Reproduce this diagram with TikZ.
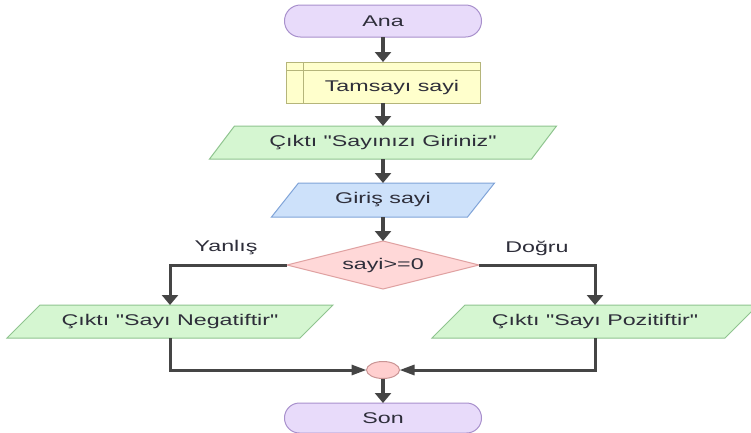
\documentclass[tikz,border=0pt]{standalone}
\usepackage{fontspec}
\newfontfamily\chartfont{Liberation Sans}
\usepackage{graphicx}
\usetikzlibrary{arrows.meta}

\definecolor{linecol}{HTML}{454545}
\definecolor{txtcol}{HTML}{2E2E3A}
\definecolor{termfill}{HTML}{E8DBFA}
\definecolor{termdraw}{HTML}{A890CC}
\definecolor{declfill}{HTML}{FFFFCC}
\definecolor{decldraw}{HTML}{B5B57A}
\definecolor{outfill}{HTML}{D5F6D1}
\definecolor{outdraw}{HTML}{8FC48F}
\definecolor{infill}{HTML}{CDE1FA}
\definecolor{indraw}{HTML}{80A4D8}
\definecolor{decfill}{HTML}{FFD8D8}
\definecolor{decdraw}{HTML}{E0A2A2}
\definecolor{joinfill}{HTML}{FFCFCF}
\definecolor{joindraw}{HTML}{C99494}

\pgfdeclarelayer{bg}
\pgfsetlayers{bg,main}

% text is stretched horizontally like the rest of the chart
\newcommand{\wide}[1]{\scalebox{1.5}[1]{#1}}
% parallelogram drawn inside the box of node #1, slant #2, style #3
\newcommand{\paral}[3]{%
  \filldraw[#3] ([xshift=#2]#1.north west) -- (#1.north east)
    -- ([xshift=-#2]#1.south east) -- (#1.south west) -- cycle;}

\begin{document}
\begin{tikzpicture}[x=1pt,y=-1pt,
  font=\chartfont\fontsize{15.5}{18}\selectfont, text=txtcol,
  hold/.style={rectangle, inner sep=0pt, outer sep=0pt},
  term/.style={fill=termfill, draw=termdraw, line width=1pt},
  decl/.style={fill=declfill, draw=decldraw, line width=1pt},
  outp/.style={fill=outfill, draw=outdraw, line width=1pt},
  inp/.style={fill=infill, draw=indraw, line width=1pt},
  cond/.style={fill=decfill, draw=decdraw, line width=1pt},
  joint/.style={fill=joinfill, draw=joindraw, line width=1pt},
  down/.style={draw=linecol, line width=3.6pt, -{Triangle[length=10pt,width=16pt]}},
  branch/.style={draw=linecol, line width=3pt, -{Triangle[length=10pt,width=16pt]}},
  merge/.style={draw=linecol, line width=3pt, -{Triangle[length=15pt,width=10pt]}}]

\useasboundingbox (0,0) rectangle (751,432);
\clip (0,0) rectangle (751,432);

% nodes
\node[hold, minimum width=197pt, minimum height=32pt] (ana) at (383,21) {\wide{Ana}};
\node[hold, minimum width=194pt, minimum height=41pt] (tam) at (383,82.5) {};
\node (tamtxt) at (392,87) {\wide{Tamsayı sayi}};
\node[hold, minimum width=347pt, minimum height=33pt] (say) at (383,142.5) {\wide{Çıktı "Sayınızı Giriniz"}};
\node[hold, minimum width=223pt, minimum height=34pt] (gir) at (383,200) {\wide{Giriş sayi}};
\node[hold, minimum width=192pt, minimum height=48pt] (dec) at (383,265) {\wide{sayi>=0}};
\node[hold, minimum width=326pt, minimum height=33pt] (neg) at (170,321.5) {\wide{Çıktı "Sayı Negatiftir"}};
\node[hold, minimum width=326pt, minimum height=33pt] (pos) at (595,321.5) {\wide{Çıktı "Sayı Pozitiftir"}};
\node[hold, minimum width=33pt, minimum height=17pt] (j) at (383,370) {};
\node[hold, minimum width=197pt, minimum height=30pt] (son) at (383,418) {\wide{Son}};
\node (yan) at (226,248) {\wide{Yanlış}};
\node (dog) at (537,248) {\wide{Doğru}};

% shapes behind the text
\begin{pgfonlayer}{bg}
  \fill[white] (0,0) rectangle (751,432);
  \filldraw[term, rounded corners=15.9pt] (ana.south west) rectangle (ana.north east);
  \filldraw[decl] (tam.south west) rectangle (tam.north east);
  \draw[decl] ([xshift=17pt]tam.north west) -- ([xshift=17pt]tam.south west);
  \draw[decl] ([yshift=-8pt]tam.north west) -- ([yshift=-8pt]tam.north east);
  \paral{say}{25pt}{outp}
  \paral{gir}{27pt}{inp}
  \filldraw[cond] (dec.north) -- (dec.east) -- (dec.south) -- (dec.west) -- cycle;
  \paral{neg}{33pt}{outp}
  \paral{pos}{33pt}{outp}
  \filldraw[joint] (j.center) ellipse [x radius=16.5pt, y radius=8.5pt];
  \filldraw[term, rounded corners=14.9pt] (son.south west) rectangle (son.north east);
\end{pgfonlayer}

% connectors
\draw[down] (ana.south) -- (tam.north);
\draw[down] (tam.south) -- (say.north);
\draw[down] (say.south) -- (gir.north);
\draw[down] (gir.south) -- (dec.north);
\draw[branch] (dec.west) -| (neg.north);
\draw[branch] (dec.east) -| (pos.north);
\draw[merge] (neg.south) |- (j.west);
\draw[merge] (pos.south) |- (j.east);
\draw[down] (j.south) -- (son.north);
\end{tikzpicture}
\end{document}
